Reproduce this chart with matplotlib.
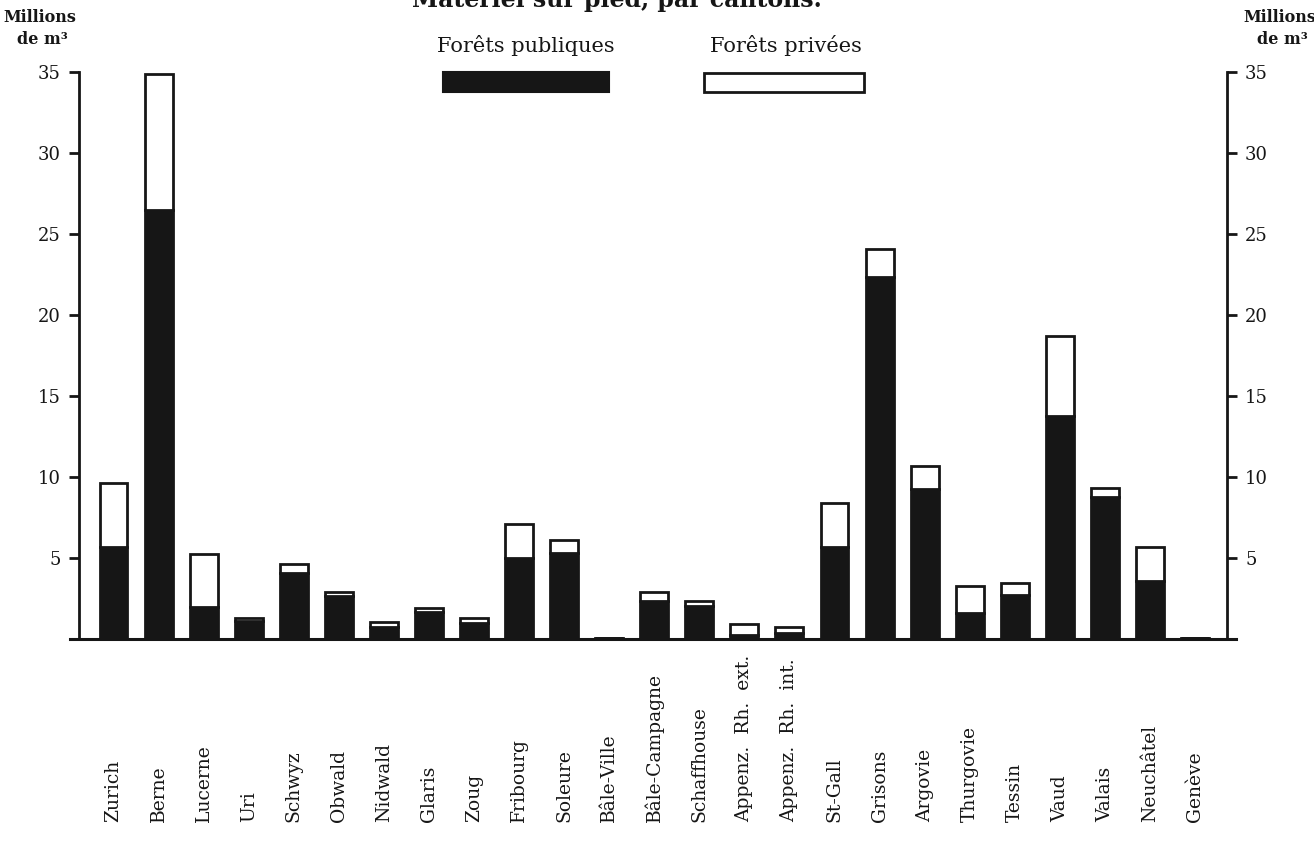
import matplotlib
matplotlib.use("Agg")
import matplotlib.pyplot as plt
from matplotlib.patches import Rectangle
import matplotlib.transforms as mtransforms

cantons = ["Zurich", "Berne", "Lucerne", "Uri", "Schwyz", "Obwald", "Nidwald",
           "Glaris", "Zoug", "Fribourg", "Soleure", "Bâle-Ville", "Bâle-Campagne",
           "Schaffhouse", "Appenz.  Rh.  ext.", "Appenz.  Rh.  int.", "St-Gall",
           "Grisons", "Argovie", "Thurgovie", "Tessin", "Vaud", "Valais",
           "Neuchâtel", "Genève"]
# millions of m3
publiques = [5.7, 26.5, 2.0, 1.1, 4.1, 2.65, 0.75, 1.65, 1.0, 5.0, 5.3, 0.05, 2.35,
             2.05, 0.25, 0.4, 5.7, 22.35, 9.25, 1.6, 2.7, 13.75, 8.75, 3.6, 0.05]
totaux = [9.6, 34.9, 5.25, 1.3, 4.6, 2.9, 1.05, 1.9, 1.3, 7.1, 6.1, 0.08, 2.9,
          2.35, 0.93, 0.75, 8.4, 24.1, 10.7, 3.27, 3.45, 18.7, 9.3, 5.65, 0.08]
privees = [t - p for t, p in zip(totaux, publiques)]
yticks = [5, 10, 15, 20, 25, 30, 35]

title = "Matériel sur pied, par cantons."
leg_pub = "Forêts publiques"
leg_priv = "Forêts privées"
unit_l1 = "Millions"
unit_l2 = "de m³"

W, H = 1314, 852
fig = plt.figure(figsize=(W / 100, H / 100), dpi=100, facecolor="white")
plt.rcParams['font.family'] = ['DejaVu Serif']

ax_left_px, ax_right_px = 79, 1227
ax_bottom_px, ax_top_px = 639, 72
ax = fig.add_axes([ax_left_px / W, 1 - ax_bottom_px / H,
                   (ax_right_px - ax_left_px) / W, (ax_bottom_px - ax_top_px) / H])
ax.set_facecolor("none")

n = len(cantons)
x = list(range(n))
ink = "#161616"
ax.bar(x, publiques, width=0.62, color=ink, edgecolor=ink, linewidth=2, zorder=3)
ax.bar(x, privees, bottom=publiques, width=0.62, color="white", edgecolor=ink,
       linewidth=2, zorder=3)

ax.set_xlim(-0.766, 24.71)
ax.set_ylim(0, 35)
ax.plot([-0.97, 24.92], [0, 0], color=ink, lw=2.2, clip_on=False, zorder=4)

for s in ["top", "bottom"]:
    ax.spines[s].set_visible(False)
for s in ["left", "right"]:
    ax.spines[s].set_linewidth(2)
    ax.spines[s].set_color(ink)

ax.set_yticks(yticks)
ax.set_yticklabels([str(v) for v in yticks])
ax.tick_params(axis="y", which="both", left=True, right=True, labelleft=True,
               labelright=True, direction="out", length=7, width=2,
               color=ink, labelsize=13, pad=6, labelcolor=ink)
ax.set_xticks([])

# rotated canton labels
trans = mtransforms.blended_transform_factory(ax.transData, fig.transFigure)
for xi, name in zip(x, cantons):
    ax.text(xi, 1 - 822 / H, name, rotation=90, ha="center", va="bottom",
            fontsize=13.5, color=ink, transform=trans)

# unit labels
for cx in (40, 1280):
    fig.text(cx / W, 1 - 18 / H, unit_l1, ha="center", va="center", fontsize=11.5,
             fontweight="bold", color=ink)
    fig.text((cx + 2) / W, 1 - 39 / H, unit_l2, ha="center", va="center", fontsize=11.5,
             fontweight="bold", color=ink)

# title (cut off at top as in the scan)
fig.text(617 / W, 1 - 7 / H, title, ha="center", va="baseline", fontsize=17,
         fontweight="bold", color=ink)

# legend
fig.text(526 / W, 1 - 45 / H, leg_pub, ha="center", va="center", fontsize=15, color=ink)
fig.text(786 / W, 1 - 45 / H, leg_priv, ha="center", va="center", fontsize=15, color=ink)
fig.patches.append(Rectangle((443 / W, 1 - 92 / H), 166 / W, 20 / H, transform=fig.transFigure,
                             facecolor=ink, edgecolor=ink, linewidth=1.5))
fig.patches.append(Rectangle((704 / W, 1 - 92 / H), 160 / W, 19 / H, transform=fig.transFigure,
                             facecolor="white", edgecolor=ink, linewidth=2))

fig.savefig("out.png", dpi=100, facecolor="white")
